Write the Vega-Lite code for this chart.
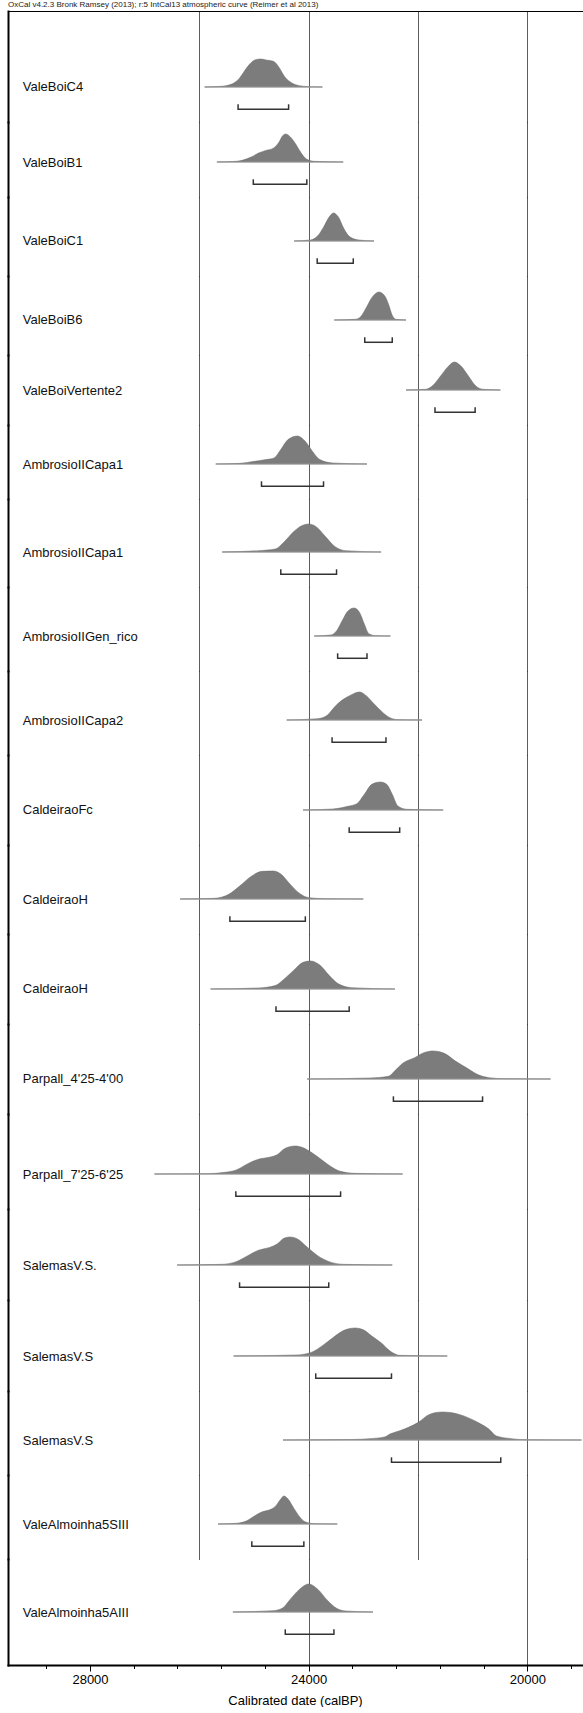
{
"$schema": "https://vega.github.io/schema/vega-lite/v6.json",
"background": "white",
"padding": {"left": 8, "top": 1, "right": 0, "bottom": 0},
"config": {
 "view": {"stroke": null},
 "font": "Liberation Sans",
 "axisX": {"grid": true, "gridColor": "#333", "gridWidth": 0.8, "gridCap": "square", "labels": false, "ticks": false, "domain": false},
 "axisY": {"labels": false, "ticks": false, "grid": false, "domain": true, "domainColor": "#000", "domainWidth": 2, "domainCap": "square"},
 "area": {"interpolate": "monotone", "color": "#7c7c7c", "stroke": "#666", "strokeWidth": 0.5},
 "text": {"align": "left", "baseline": "alphabetic", "dy": 4.5, "fontSize": 13, "font": "Liberation Sans", "color": "#111"},
 "style": {"base": {"color": "#999", "strokeWidth": 1.2}, "brk": {"color": "#333", "strokeWidth": 1.5}}
},
"title": {"text": "OxCal v4.2.3 Bronk Ramsey (2013); r:5 IntCal13 atmospheric curve (Reimer et al 2013)", "anchor": "start", "fontSize": 8, "fontWeight": "normal", "font": "Liberation Sans", "color": "#222", "offset": 2},
"data": {"values": [
{"id":1,"k":"r","name":"ValeBoiC4","lo":25291,"hi":24367},
{"id":1,"k":"p","date":25903,"p":0},{"id":1,"k":"p","date":25597,"p":0.024},{"id":1,"k":"p","date":25393,"p":0.118},{"id":1,"k":"p","date":25291,"p":0.259},{"id":1,"k":"p","date":25189,"p":0.529},{"id":1,"k":"p","date":25087,"p":0.8},{"id":1,"k":"p","date":24985,"p":0.965},{"id":1,"k":"p","date":24883,"p":1},{"id":1,"k":"p","date":24782,"p":0.965},{"id":1,"k":"p","date":24646,"p":0.918},{"id":1,"k":"p","date":24544,"p":0.706},{"id":1,"k":"p","date":24442,"p":0.376},{"id":1,"k":"p","date":24306,"p":0.141},{"id":1,"k":"p","date":24170,"p":0.047},{"id":1,"k":"p","date":24000,"p":0.012},{"id":1,"k":"p","date":23749,"p":0},
{"id":2,"k":"r","name":"ValeBoiB1","lo":25013,"hi":24034},
{"id":2,"k":"p","date":25679,"p":0},{"id":2,"k":"p","date":25325,"p":0.024},{"id":2,"k":"p","date":25053,"p":0.176},{"id":2,"k":"p","date":24917,"p":0.318},{"id":2,"k":"p","date":24782,"p":0.412},{"id":2,"k":"p","date":24646,"p":0.494},{"id":2,"k":"p","date":24544,"p":0.706},{"id":2,"k":"p","date":24476,"p":0.941},{"id":2,"k":"p","date":24421,"p":1},{"id":2,"k":"p","date":24340,"p":0.906},{"id":2,"k":"p","date":24238,"p":0.647},{"id":2,"k":"p","date":24136,"p":0.318},{"id":2,"k":"p","date":24034,"p":0.094},{"id":2,"k":"p","date":23898,"p":0.024},{"id":2,"k":"p","date":23368,"p":0},
{"id":3,"k":"r","name":"ValeBoiC1","lo":23844,"hi":23184},
{"id":3,"k":"p","date":24265,"p":0},{"id":3,"k":"p","date":23966,"p":0.036},{"id":3,"k":"p","date":23830,"p":0.193},{"id":3,"k":"p","date":23728,"p":0.494},{"id":3,"k":"p","date":23626,"p":0.855},{"id":3,"k":"p","date":23545,"p":1},{"id":3,"k":"p","date":23456,"p":0.855},{"id":3,"k":"p","date":23354,"p":0.434},{"id":3,"k":"p","date":23252,"p":0.157},{"id":3,"k":"p","date":23083,"p":0.036},{"id":3,"k":"p","date":22804,"p":0},
{"id":4,"k":"r","name":"ValeBoiB6","lo":22974,"hi":22471},
{"id":4,"k":"p","date":23531,"p":0},{"id":4,"k":"p","date":23150,"p":0.024},{"id":4,"k":"p","date":23049,"p":0.119},{"id":4,"k":"p","date":22947,"p":0.44},{"id":4,"k":"p","date":22845,"p":0.798},{"id":4,"k":"p","date":22716,"p":1},{"id":4,"k":"p","date":22607,"p":0.857},{"id":4,"k":"p","date":22539,"p":0.56},{"id":4,"k":"p","date":22471,"p":0.167},{"id":4,"k":"p","date":22403,"p":0.024},{"id":4,"k":"p","date":22219,"p":0},
{"id":5,"k":"r","name":"ValeBoiVertente2","lo":21689,"hi":20955},
{"id":5,"k":"p","date":22219,"p":0},{"id":5,"k":"p","date":21859,"p":0.024},{"id":5,"k":"p","date":21724,"p":0.167},{"id":5,"k":"p","date":21587,"p":0.5},{"id":5,"k":"p","date":21451,"p":0.833},{"id":5,"k":"p","date":21336,"p":1},{"id":5,"k":"p","date":21214,"p":0.857},{"id":5,"k":"p","date":21078,"p":0.5},{"id":5,"k":"p","date":20942,"p":0.143},{"id":5,"k":"p","date":20806,"p":0.024},{"id":5,"k":"p","date":20493,"p":0},
{"id":6,"k":"r","name":"AmbrosioIICapa1","lo":24863,"hi":23728},
{"id":6,"k":"p","date":25699,"p":0},{"id":6,"k":"p","date":25257,"p":0.024},{"id":6,"k":"p","date":24985,"p":0.096},{"id":6,"k":"p","date":24782,"p":0.157},{"id":6,"k":"p","date":24632,"p":0.217},{"id":6,"k":"p","date":24510,"p":0.518},{"id":6,"k":"p","date":24374,"p":0.88},{"id":6,"k":"p","date":24204,"p":1},{"id":6,"k":"p","date":24068,"p":0.819},{"id":6,"k":"p","date":23932,"p":0.458},{"id":6,"k":"p","date":23796,"p":0.157},{"id":6,"k":"p","date":23558,"p":0.036},{"id":6,"k":"p","date":22933,"p":0},
{"id":7,"k":"r","name":"AmbrosioIICapa1","lo":24510,"hi":23490},
{"id":7,"k":"p","date":25583,"p":0},{"id":7,"k":"p","date":24917,"p":0.047},{"id":7,"k":"p","date":24612,"p":0.106},{"id":7,"k":"p","date":24442,"p":0.376},{"id":7,"k":"p","date":24272,"p":0.729},{"id":7,"k":"p","date":24136,"p":0.929},{"id":7,"k":"p","date":24000,"p":1},{"id":7,"k":"p","date":23864,"p":0.906},{"id":7,"k":"p","date":23694,"p":0.553},{"id":7,"k":"p","date":23524,"p":0.2},{"id":7,"k":"p","date":23320,"p":0.047},{"id":7,"k":"p","date":22675,"p":0},
{"id":8,"k":"r","name":"AmbrosioIIGen_rico","lo":23470,"hi":22933},
{"id":8,"k":"p","date":23898,"p":0},{"id":8,"k":"p","date":23592,"p":0.036},{"id":8,"k":"p","date":23490,"p":0.181},{"id":8,"k":"p","date":23388,"p":0.542},{"id":8,"k":"p","date":23286,"p":0.88},{"id":8,"k":"p","date":23171,"p":1},{"id":8,"k":"p","date":23069,"p":0.843},{"id":8,"k":"p","date":22981,"p":0.422},{"id":8,"k":"p","date":22899,"p":0.084},{"id":8,"k":"p","date":22777,"p":0.012},{"id":8,"k":"p","date":22505,"p":0},
{"id":9,"k":"r","name":"AmbrosioIICapa2","lo":23572,"hi":22586},
{"id":9,"k":"p","date":24401,"p":0},{"id":9,"k":"p","date":23830,"p":0.048},{"id":9,"k":"p","date":23660,"p":0.169},{"id":9,"k":"p","date":23524,"p":0.47},{"id":9,"k":"p","date":23388,"p":0.71},{"id":9,"k":"p","date":23252,"p":0.867},{"id":9,"k":"p","date":23069,"p":1},{"id":9,"k":"p","date":22947,"p":0.867},{"id":9,"k":"p","date":22811,"p":0.59},{"id":9,"k":"p","date":22675,"p":0.325},{"id":9,"k":"p","date":22539,"p":0.108},{"id":9,"k":"p","date":22369,"p":0.012},{"id":9,"k":"p","date":21927,"p":0},
{"id":10,"k":"r","name":"CaldeiraoFc","lo":23259,"hi":22335},
{"id":10,"k":"p","date":24102,"p":0},{"id":10,"k":"p","date":23558,"p":0.036},{"id":10,"k":"p","date":23286,"p":0.131},{"id":10,"k":"p","date":23117,"p":0.226},{"id":10,"k":"p","date":22981,"p":0.56},{"id":10,"k":"p","date":22845,"p":0.917},{"id":10,"k":"p","date":22688,"p":1},{"id":10,"k":"p","date":22573,"p":0.917},{"id":10,"k":"p","date":22471,"p":0.56},{"id":10,"k":"p","date":22369,"p":0.143},{"id":10,"k":"p","date":22199,"p":0.024},{"id":10,"k":"p","date":21540,"p":0},
{"id":11,"k":"r","name":"CaldeiraoH","lo":25441,"hi":24061},
{"id":11,"k":"p","date":26351,"p":0},{"id":11,"k":"p","date":25733,"p":0.024},{"id":11,"k":"p","date":25461,"p":0.169},{"id":11,"k":"p","date":25257,"p":0.47},{"id":11,"k":"p","date":25053,"p":0.807},{"id":11,"k":"p","date":24849,"p":0.988},{"id":11,"k":"p","date":24646,"p":1},{"id":11,"k":"p","date":24510,"p":0.892},{"id":11,"k":"p","date":24340,"p":0.53},{"id":11,"k":"p","date":24170,"p":0.205},{"id":11,"k":"p","date":24000,"p":0.048},{"id":11,"k":"p","date":23694,"p":0.012},{"id":11,"k":"p","date":23001,"p":0},
{"id":12,"k":"r","name":"CaldeiraoH","lo":24598,"hi":23259},
{"id":12,"k":"p","date":25794,"p":0},{"id":12,"k":"p","date":24917,"p":0.037},{"id":12,"k":"p","date":24612,"p":0.122},{"id":12,"k":"p","date":24442,"p":0.366},{"id":12,"k":"p","date":24272,"p":0.671},{"id":12,"k":"p","date":24102,"p":0.951},{"id":12,"k":"p","date":23966,"p":1},{"id":12,"k":"p","date":23796,"p":0.854},{"id":12,"k":"p","date":23626,"p":0.488},{"id":12,"k":"p","date":23456,"p":0.183},{"id":12,"k":"p","date":23218,"p":0.049},{"id":12,"k":"p","date":22423,"p":0},
{"id":13,"k":"r","name":"Parpall_4'25-4'00","lo":22450,"hi":20819},
{"id":13,"k":"p","date":24027,"p":0},{"id":13,"k":"p","date":22879,"p":0.036},{"id":13,"k":"p","date":22539,"p":0.096},{"id":13,"k":"p","date":22403,"p":0.337},{"id":13,"k":"p","date":22267,"p":0.578},{"id":13,"k":"p","date":22063,"p":0.759},{"id":13,"k":"p","date":21893,"p":0.94},{"id":13,"k":"p","date":21723,"p":1},{"id":13,"k":"p","date":21519,"p":0.916},{"id":13,"k":"p","date":21315,"p":0.639},{"id":13,"k":"p","date":21112,"p":0.398},{"id":13,"k":"p","date":20908,"p":0.157},{"id":13,"k":"p","date":20704,"p":0.048},{"id":13,"k":"p","date":20432,"p":0.012},{"id":13,"k":"p","date":19576,"p":0},
{"id":14,"k":"r","name":"Parpall_7'25-6'25","lo":25332,"hi":23416},
{"id":14,"k":"p","date":26820,"p":0},{"id":14,"k":"p","date":25869,"p":0.012},{"id":14,"k":"p","date":25529,"p":0.06},{"id":14,"k":"p","date":25325,"p":0.145},{"id":14,"k":"p","date":25121,"p":0.361},{"id":14,"k":"p","date":24917,"p":0.53},{"id":14,"k":"p","date":24714,"p":0.602},{"id":14,"k":"p","date":24578,"p":0.687},{"id":14,"k":"p","date":24442,"p":0.904},{"id":14,"k":"p","date":24251,"p":1},{"id":14,"k":"p","date":24102,"p":0.94},{"id":14,"k":"p","date":23932,"p":0.747},{"id":14,"k":"p","date":23762,"p":0.506},{"id":14,"k":"p","date":23592,"p":0.265},{"id":14,"k":"p","date":23422,"p":0.096},{"id":14,"k":"p","date":23150,"p":0.024},{"id":14,"k":"p","date":22281,"p":0},
{"id":15,"k":"r","name":"SalemasV.S.","lo":25264,"hi":23633},
{"id":15,"k":"p","date":26406,"p":0},{"id":15,"k":"p","date":25597,"p":0.024},{"id":15,"k":"p","date":25325,"p":0.12},{"id":15,"k":"p","date":25121,"p":0.325},{"id":15,"k":"p","date":24917,"p":0.53},{"id":15,"k":"p","date":24714,"p":0.627},{"id":15,"k":"p","date":24578,"p":0.747},{"id":15,"k":"p","date":24442,"p":0.964},{"id":15,"k":"p","date":24340,"p":1},{"id":15,"k":"p","date":24204,"p":0.928},{"id":15,"k":"p","date":24034,"p":0.651},{"id":15,"k":"p","date":23830,"p":0.325},{"id":15,"k":"p","date":23626,"p":0.12},{"id":15,"k":"p","date":23354,"p":0.024},{"id":15,"k":"p","date":22471,"p":0},
{"id":16,"k":"r","name":"SalemasV.S","lo":23871,"hi":22485},
{"id":16,"k":"p","date":25373,"p":0},{"id":16,"k":"p","date":24238,"p":0.036},{"id":16,"k":"p","date":23966,"p":0.12},{"id":16,"k":"p","date":23762,"p":0.349},{"id":16,"k":"p","date":23558,"p":0.651},{"id":16,"k":"p","date":23354,"p":0.916},{"id":16,"k":"p","date":23150,"p":1},{"id":16,"k":"p","date":22981,"p":0.916},{"id":16,"k":"p","date":22845,"p":0.711},{"id":16,"k":"p","date":22675,"p":0.47},{"id":16,"k":"p","date":22505,"p":0.169},{"id":16,"k":"p","date":22335,"p":0.024},{"id":16,"k":"p","date":21465,"p":0},
{"id":17,"k":"r","name":"SalemasV.S","lo":22485,"hi":20486},
{"id":17,"k":"p","date":24469,"p":0},{"id":17,"k":"p","date":23218,"p":0.018},{"id":17,"k":"p","date":22879,"p":0.048},{"id":17,"k":"p","date":22607,"p":0.11},{"id":17,"k":"p","date":22505,"p":0.22},{"id":17,"k":"p","date":22335,"p":0.33},{"id":17,"k":"p","date":21995,"p":0.63},{"id":17,"k":"p","date":21791,"p":0.915},{"id":17,"k":"p","date":21553,"p":1},{"id":17,"k":"p","date":21248,"p":0.915},{"id":17,"k":"p","date":20908,"p":0.63},{"id":17,"k":"p","date":20704,"p":0.39},{"id":17,"k":"p","date":20568,"p":0.147},{"id":17,"k":"p","date":20296,"p":0.048},{"id":17,"k":"p","date":20024,"p":0.01},{"id":17,"k":"p","date":19010,"p":0},
{"id":18,"k":"r","name":"ValeAlmoinha5SIII","lo":25040,"hi":24088},
{"id":18,"k":"p","date":25658,"p":0},{"id":18,"k":"p","date":25325,"p":0.024},{"id":18,"k":"p","date":25155,"p":0.094},{"id":18,"k":"p","date":24985,"p":0.294},{"id":18,"k":"p","date":24850,"p":0.435},{"id":18,"k":"p","date":24714,"p":0.506},{"id":18,"k":"p","date":24612,"p":0.624},{"id":18,"k":"p","date":24523,"p":0.859},{"id":18,"k":"p","date":24455,"p":1},{"id":18,"k":"p","date":24374,"p":0.882},{"id":18,"k":"p","date":24272,"p":0.565},{"id":18,"k":"p","date":24170,"p":0.271},{"id":18,"k":"p","date":24068,"p":0.082},{"id":18,"k":"p","date":23898,"p":0.012},{"id":18,"k":"p","date":23477,"p":0},
{"id":19,"k":"r","name":"ValeAlmoinha5AIII","lo":24428,"hi":23538},
{"id":19,"k":"p","date":25386,"p":0},{"id":19,"k":"p","date":24646,"p":0.048},{"id":19,"k":"p","date":24476,"p":0.145},{"id":19,"k":"p","date":24340,"p":0.446},{"id":19,"k":"p","date":24170,"p":0.807},{"id":19,"k":"p","date":24000,"p":1},{"id":19,"k":"p","date":23830,"p":0.807},{"id":19,"k":"p","date":23660,"p":0.422},{"id":19,"k":"p","date":23490,"p":0.133},{"id":19,"k":"p","date":23320,"p":0.036},{"id":19,"k":"p","date":22824,"p":0}
]},
"spacing": 0,
"resolve": {"scale": {"y": "independent"}},
"vconcat": [
{"width": 574, "height": 111, "transform": [{"filter": "datum.id == 1"}], "layer": [
 {"transform": [{"filter": "datum.k === 'p'"}], "mark": "area", "encoding": {"x": {"field": "date", "type": "quantitative", "scale": {"domain": [19000, 29500], "reverse": true, "nice": false, "zero": false}, "axis": {"orient": "top", "values": [20000, 22000, 24000, 26000], "domain": true, "domainColor": "#000", "domainWidth": 1, "domainCap": "square", "title": null}}, "y": {"field": "p", "type": "quantitative", "scale": {"domain": [-1.25, 2.714], "nice": false, "zero": false}, "axis": {"title": null}}, "y2": {"datum": 0}}},
 {"transform": [{"filter": "datum.k === 'p'"}], "mark": {"type": "rule", "style": "base"}, "encoding": {"x": {"aggregate": "min", "field": "date", "type": "quantitative", "title": null}, "x2": {"aggregate": "max", "field": "date"}, "y": {"datum": 0}}},
 {"transform": [{"filter": "datum.k === 'r'"}], "mark": {"type": "rule", "style": "brk"}, "encoding": {"x": {"field": "lo", "type": "quantitative", "title": null}, "x2": {"field": "hi"}, "y": {"datum": -0.796}}},
 {"transform": [{"filter": "datum.k === 'r'"}], "mark": {"type": "rule", "style": "brk"}, "encoding": {"x": {"field": "lo", "type": "quantitative", "title": null}, "y": {"datum": -0.82}, "y2": {"datum": -0.618}}},
 {"transform": [{"filter": "datum.k === 'r'"}], "mark": {"type": "rule", "style": "brk"}, "encoding": {"x": {"field": "hi", "type": "quantitative", "title": null}, "y": {"datum": -0.82}, "y2": {"datum": -0.618}}},
 {"transform": [{"filter": "datum.k === 'r'"}], "mark": "text", "encoding": {"x": {"datum": 29230, "type": "quantitative", "title": null}, "y": {"datum": 0}, "text": {"field": "name"}}}
]},
{"width": 574, "height": 75, "transform": [{"filter": "datum.id == 2"}], "layer": [
 {"transform": [{"filter": "datum.k === 'p'"}], "mark": "area", "encoding": {"x": {"field": "date", "type": "quantitative", "scale": {"domain": [19000, 29500], "reverse": true, "nice": false, "zero": false}, "axis": {"values": [20000, 22000, 24000, 26000], "title": null}}, "y": {"field": "p", "type": "quantitative", "scale": {"domain": [-1.25, 1.4286], "nice": false, "zero": false}, "axis": {"title": null}}, "y2": {"datum": 0}}},
 {"transform": [{"filter": "datum.k === 'p'"}], "mark": {"type": "rule", "style": "base"}, "encoding": {"x": {"aggregate": "min", "field": "date", "type": "quantitative", "title": null}, "x2": {"aggregate": "max", "field": "date"}, "y": {"datum": 0}}},
 {"transform": [{"filter": "datum.k === 'r'"}], "mark": {"type": "rule", "style": "brk"}, "encoding": {"x": {"field": "lo", "type": "quantitative", "title": null}, "x2": {"field": "hi"}, "y": {"datum": -0.796}}},
 {"transform": [{"filter": "datum.k === 'r'"}], "mark": {"type": "rule", "style": "brk"}, "encoding": {"x": {"field": "lo", "type": "quantitative", "title": null}, "y": {"datum": -0.82}, "y2": {"datum": -0.618}}},
 {"transform": [{"filter": "datum.k === 'r'"}], "mark": {"type": "rule", "style": "brk"}, "encoding": {"x": {"field": "hi", "type": "quantitative", "title": null}, "y": {"datum": -0.82}, "y2": {"datum": -0.618}}},
 {"transform": [{"filter": "datum.k === 'r'"}], "mark": "text", "encoding": {"x": {"datum": 29230, "type": "quantitative", "title": null}, "y": {"datum": 0}, "text": {"field": "name"}}}
]},
{"width": 574, "height": 79, "transform": [{"filter": "datum.id == 3"}], "layer": [
 {"transform": [{"filter": "datum.k === 'p'"}], "mark": "area", "encoding": {"x": {"field": "date", "type": "quantitative", "scale": {"domain": [19000, 29500], "reverse": true, "nice": false, "zero": false}, "axis": {"values": [20000, 22000, 24000, 26000], "title": null}}, "y": {"field": "p", "type": "quantitative", "scale": {"domain": [-1.25, 1.571], "nice": false, "zero": false}, "axis": {"title": null}}, "y2": {"datum": 0}}},
 {"transform": [{"filter": "datum.k === 'p'"}], "mark": {"type": "rule", "style": "base"}, "encoding": {"x": {"aggregate": "min", "field": "date", "type": "quantitative", "title": null}, "x2": {"aggregate": "max", "field": "date"}, "y": {"datum": 0}}},
 {"transform": [{"filter": "datum.k === 'r'"}], "mark": {"type": "rule", "style": "brk"}, "encoding": {"x": {"field": "lo", "type": "quantitative", "title": null}, "x2": {"field": "hi"}, "y": {"datum": -0.796}}},
 {"transform": [{"filter": "datum.k === 'r'"}], "mark": {"type": "rule", "style": "brk"}, "encoding": {"x": {"field": "lo", "type": "quantitative", "title": null}, "y": {"datum": -0.82}, "y2": {"datum": -0.618}}},
 {"transform": [{"filter": "datum.k === 'r'"}], "mark": {"type": "rule", "style": "brk"}, "encoding": {"x": {"field": "hi", "type": "quantitative", "title": null}, "y": {"datum": -0.82}, "y2": {"datum": -0.618}}},
 {"transform": [{"filter": "datum.k === 'r'"}], "mark": "text", "encoding": {"x": {"datum": 29230, "type": "quantitative", "title": null}, "y": {"datum": 0}, "text": {"field": "name"}}}
]},
{"width": 574, "height": 79, "transform": [{"filter": "datum.id == 4"}], "layer": [
 {"transform": [{"filter": "datum.k === 'p'"}], "mark": "area", "encoding": {"x": {"field": "date", "type": "quantitative", "scale": {"domain": [19000, 29500], "reverse": true, "nice": false, "zero": false}, "axis": {"values": [20000, 22000, 24000, 26000], "title": null}}, "y": {"field": "p", "type": "quantitative", "scale": {"domain": [-1.25, 1.571], "nice": false, "zero": false}, "axis": {"title": null}}, "y2": {"datum": 0}}},
 {"transform": [{"filter": "datum.k === 'p'"}], "mark": {"type": "rule", "style": "base"}, "encoding": {"x": {"aggregate": "min", "field": "date", "type": "quantitative", "title": null}, "x2": {"aggregate": "max", "field": "date"}, "y": {"datum": 0}}},
 {"transform": [{"filter": "datum.k === 'r'"}], "mark": {"type": "rule", "style": "brk"}, "encoding": {"x": {"field": "lo", "type": "quantitative", "title": null}, "x2": {"field": "hi"}, "y": {"datum": -0.796}}},
 {"transform": [{"filter": "datum.k === 'r'"}], "mark": {"type": "rule", "style": "brk"}, "encoding": {"x": {"field": "lo", "type": "quantitative", "title": null}, "y": {"datum": -0.82}, "y2": {"datum": -0.618}}},
 {"transform": [{"filter": "datum.k === 'r'"}], "mark": {"type": "rule", "style": "brk"}, "encoding": {"x": {"field": "hi", "type": "quantitative", "title": null}, "y": {"datum": -0.82}, "y2": {"datum": -0.618}}},
 {"transform": [{"filter": "datum.k === 'r'"}], "mark": "text", "encoding": {"x": {"datum": 29230, "type": "quantitative", "title": null}, "y": {"datum": 0}, "text": {"field": "name"}}}
]},
{"width": 574, "height": 70, "transform": [{"filter": "datum.id == 5"}], "layer": [
 {"transform": [{"filter": "datum.k === 'p'"}], "mark": "area", "encoding": {"x": {"field": "date", "type": "quantitative", "scale": {"domain": [19000, 29500], "reverse": true, "nice": false, "zero": false}, "axis": {"values": [20000, 22000, 24000, 26000], "title": null}}, "y": {"field": "p", "type": "quantitative", "scale": {"domain": [-1.25, 1.25], "nice": false, "zero": false}, "axis": {"title": null}}, "y2": {"datum": 0}}},
 {"transform": [{"filter": "datum.k === 'p'"}], "mark": {"type": "rule", "style": "base"}, "encoding": {"x": {"aggregate": "min", "field": "date", "type": "quantitative", "title": null}, "x2": {"aggregate": "max", "field": "date"}, "y": {"datum": 0}}},
 {"transform": [{"filter": "datum.k === 'r'"}], "mark": {"type": "rule", "style": "brk"}, "encoding": {"x": {"field": "lo", "type": "quantitative", "title": null}, "x2": {"field": "hi"}, "y": {"datum": -0.796}}},
 {"transform": [{"filter": "datum.k === 'r'"}], "mark": {"type": "rule", "style": "brk"}, "encoding": {"x": {"field": "lo", "type": "quantitative", "title": null}, "y": {"datum": -0.82}, "y2": {"datum": -0.618}}},
 {"transform": [{"filter": "datum.k === 'r'"}], "mark": {"type": "rule", "style": "brk"}, "encoding": {"x": {"field": "hi", "type": "quantitative", "title": null}, "y": {"datum": -0.82}, "y2": {"datum": -0.618}}},
 {"transform": [{"filter": "datum.k === 'r'"}], "mark": "text", "encoding": {"x": {"datum": 29230, "type": "quantitative", "title": null}, "y": {"datum": 0}, "text": {"field": "name"}}}
]},
{"width": 574, "height": 74, "transform": [{"filter": "datum.id == 6"}], "layer": [
 {"transform": [{"filter": "datum.k === 'p'"}], "mark": "area", "encoding": {"x": {"field": "date", "type": "quantitative", "scale": {"domain": [19000, 29500], "reverse": true, "nice": false, "zero": false}, "axis": {"values": [20000, 22000, 24000, 26000], "title": null}}, "y": {"field": "p", "type": "quantitative", "scale": {"domain": [-1.25, 1.393], "nice": false, "zero": false}, "axis": {"title": null}}, "y2": {"datum": 0}}},
 {"transform": [{"filter": "datum.k === 'p'"}], "mark": {"type": "rule", "style": "base"}, "encoding": {"x": {"aggregate": "min", "field": "date", "type": "quantitative", "title": null}, "x2": {"aggregate": "max", "field": "date"}, "y": {"datum": 0}}},
 {"transform": [{"filter": "datum.k === 'r'"}], "mark": {"type": "rule", "style": "brk"}, "encoding": {"x": {"field": "lo", "type": "quantitative", "title": null}, "x2": {"field": "hi"}, "y": {"datum": -0.796}}},
 {"transform": [{"filter": "datum.k === 'r'"}], "mark": {"type": "rule", "style": "brk"}, "encoding": {"x": {"field": "lo", "type": "quantitative", "title": null}, "y": {"datum": -0.82}, "y2": {"datum": -0.618}}},
 {"transform": [{"filter": "datum.k === 'r'"}], "mark": {"type": "rule", "style": "brk"}, "encoding": {"x": {"field": "hi", "type": "quantitative", "title": null}, "y": {"datum": -0.82}, "y2": {"datum": -0.618}}},
 {"transform": [{"filter": "datum.k === 'r'"}], "mark": "text", "encoding": {"x": {"datum": 29230, "type": "quantitative", "title": null}, "y": {"datum": 0}, "text": {"field": "name"}}}
]},
{"width": 574, "height": 88, "transform": [{"filter": "datum.id == 7"}], "layer": [
 {"transform": [{"filter": "datum.k === 'p'"}], "mark": "area", "encoding": {"x": {"field": "date", "type": "quantitative", "scale": {"domain": [19000, 29500], "reverse": true, "nice": false, "zero": false}, "axis": {"values": [20000, 22000, 24000, 26000], "title": null}}, "y": {"field": "p", "type": "quantitative", "scale": {"domain": [-1.25, 1.893], "nice": false, "zero": false}, "axis": {"title": null}}, "y2": {"datum": 0}}},
 {"transform": [{"filter": "datum.k === 'p'"}], "mark": {"type": "rule", "style": "base"}, "encoding": {"x": {"aggregate": "min", "field": "date", "type": "quantitative", "title": null}, "x2": {"aggregate": "max", "field": "date"}, "y": {"datum": 0}}},
 {"transform": [{"filter": "datum.k === 'r'"}], "mark": {"type": "rule", "style": "brk"}, "encoding": {"x": {"field": "lo", "type": "quantitative", "title": null}, "x2": {"field": "hi"}, "y": {"datum": -0.796}}},
 {"transform": [{"filter": "datum.k === 'r'"}], "mark": {"type": "rule", "style": "brk"}, "encoding": {"x": {"field": "lo", "type": "quantitative", "title": null}, "y": {"datum": -0.82}, "y2": {"datum": -0.618}}},
 {"transform": [{"filter": "datum.k === 'r'"}], "mark": {"type": "rule", "style": "brk"}, "encoding": {"x": {"field": "hi", "type": "quantitative", "title": null}, "y": {"datum": -0.82}, "y2": {"datum": -0.618}}},
 {"transform": [{"filter": "datum.k === 'r'"}], "mark": "text", "encoding": {"x": {"datum": 29230, "type": "quantitative", "title": null}, "y": {"datum": 0}, "text": {"field": "name"}}}
]},
{"width": 574, "height": 84, "transform": [{"filter": "datum.id == 8"}], "layer": [
 {"transform": [{"filter": "datum.k === 'p'"}], "mark": "area", "encoding": {"x": {"field": "date", "type": "quantitative", "scale": {"domain": [19000, 29500], "reverse": true, "nice": false, "zero": false}, "axis": {"values": [20000, 22000, 24000, 26000], "title": null}}, "y": {"field": "p", "type": "quantitative", "scale": {"domain": [-1.25, 1.75], "nice": false, "zero": false}, "axis": {"title": null}}, "y2": {"datum": 0}}},
 {"transform": [{"filter": "datum.k === 'p'"}], "mark": {"type": "rule", "style": "base"}, "encoding": {"x": {"aggregate": "min", "field": "date", "type": "quantitative", "title": null}, "x2": {"aggregate": "max", "field": "date"}, "y": {"datum": 0}}},
 {"transform": [{"filter": "datum.k === 'r'"}], "mark": {"type": "rule", "style": "brk"}, "encoding": {"x": {"field": "lo", "type": "quantitative", "title": null}, "x2": {"field": "hi"}, "y": {"datum": -0.796}}},
 {"transform": [{"filter": "datum.k === 'r'"}], "mark": {"type": "rule", "style": "brk"}, "encoding": {"x": {"field": "lo", "type": "quantitative", "title": null}, "y": {"datum": -0.82}, "y2": {"datum": -0.618}}},
 {"transform": [{"filter": "datum.k === 'r'"}], "mark": {"type": "rule", "style": "brk"}, "encoding": {"x": {"field": "hi", "type": "quantitative", "title": null}, "y": {"datum": -0.82}, "y2": {"datum": -0.618}}},
 {"transform": [{"filter": "datum.k === 'r'"}], "mark": "text", "encoding": {"x": {"datum": 29230, "type": "quantitative", "title": null}, "y": {"datum": 0}, "text": {"field": "name"}}}
]},
{"width": 574, "height": 84, "transform": [{"filter": "datum.id == 9"}], "layer": [
 {"transform": [{"filter": "datum.k === 'p'"}], "mark": "area", "encoding": {"x": {"field": "date", "type": "quantitative", "scale": {"domain": [19000, 29500], "reverse": true, "nice": false, "zero": false}, "axis": {"values": [20000, 22000, 24000, 26000], "title": null}}, "y": {"field": "p", "type": "quantitative", "scale": {"domain": [-1.25, 1.75], "nice": false, "zero": false}, "axis": {"title": null}}, "y2": {"datum": 0}}},
 {"transform": [{"filter": "datum.k === 'p'"}], "mark": {"type": "rule", "style": "base"}, "encoding": {"x": {"aggregate": "min", "field": "date", "type": "quantitative", "title": null}, "x2": {"aggregate": "max", "field": "date"}, "y": {"datum": 0}}},
 {"transform": [{"filter": "datum.k === 'r'"}], "mark": {"type": "rule", "style": "brk"}, "encoding": {"x": {"field": "lo", "type": "quantitative", "title": null}, "x2": {"field": "hi"}, "y": {"datum": -0.796}}},
 {"transform": [{"filter": "datum.k === 'r'"}], "mark": {"type": "rule", "style": "brk"}, "encoding": {"x": {"field": "lo", "type": "quantitative", "title": null}, "y": {"datum": -0.82}, "y2": {"datum": -0.618}}},
 {"transform": [{"filter": "datum.k === 'r'"}], "mark": {"type": "rule", "style": "brk"}, "encoding": {"x": {"field": "hi", "type": "quantitative", "title": null}, "y": {"datum": -0.82}, "y2": {"datum": -0.618}}},
 {"transform": [{"filter": "datum.k === 'r'"}], "mark": "text", "encoding": {"x": {"datum": 29230, "type": "quantitative", "title": null}, "y": {"datum": 0}, "text": {"field": "name"}}}
]},
{"width": 574, "height": 90, "transform": [{"filter": "datum.id == 10"}], "layer": [
 {"transform": [{"filter": "datum.k === 'p'"}], "mark": "area", "encoding": {"x": {"field": "date", "type": "quantitative", "scale": {"domain": [19000, 29500], "reverse": true, "nice": false, "zero": false}, "axis": {"values": [20000, 22000, 24000, 26000], "title": null}}, "y": {"field": "p", "type": "quantitative", "scale": {"domain": [-1.25, 1.964], "nice": false, "zero": false}, "axis": {"title": null}}, "y2": {"datum": 0}}},
 {"transform": [{"filter": "datum.k === 'p'"}], "mark": {"type": "rule", "style": "base"}, "encoding": {"x": {"aggregate": "min", "field": "date", "type": "quantitative", "title": null}, "x2": {"aggregate": "max", "field": "date"}, "y": {"datum": 0}}},
 {"transform": [{"filter": "datum.k === 'r'"}], "mark": {"type": "rule", "style": "brk"}, "encoding": {"x": {"field": "lo", "type": "quantitative", "title": null}, "x2": {"field": "hi"}, "y": {"datum": -0.796}}},
 {"transform": [{"filter": "datum.k === 'r'"}], "mark": {"type": "rule", "style": "brk"}, "encoding": {"x": {"field": "lo", "type": "quantitative", "title": null}, "y": {"datum": -0.82}, "y2": {"datum": -0.618}}},
 {"transform": [{"filter": "datum.k === 'r'"}], "mark": {"type": "rule", "style": "brk"}, "encoding": {"x": {"field": "hi", "type": "quantitative", "title": null}, "y": {"datum": -0.82}, "y2": {"datum": -0.618}}},
 {"transform": [{"filter": "datum.k === 'r'"}], "mark": "text", "encoding": {"x": {"datum": 29230, "type": "quantitative", "title": null}, "y": {"datum": 0}, "text": {"field": "name"}}}
]},
{"width": 574, "height": 89, "transform": [{"filter": "datum.id == 11"}], "layer": [
 {"transform": [{"filter": "datum.k === 'p'"}], "mark": "area", "encoding": {"x": {"field": "date", "type": "quantitative", "scale": {"domain": [19000, 29500], "reverse": true, "nice": false, "zero": false}, "axis": {"values": [20000, 22000, 24000, 26000], "title": null}}, "y": {"field": "p", "type": "quantitative", "scale": {"domain": [-1.25, 1.929], "nice": false, "zero": false}, "axis": {"title": null}}, "y2": {"datum": 0}}},
 {"transform": [{"filter": "datum.k === 'p'"}], "mark": {"type": "rule", "style": "base"}, "encoding": {"x": {"aggregate": "min", "field": "date", "type": "quantitative", "title": null}, "x2": {"aggregate": "max", "field": "date"}, "y": {"datum": 0}}},
 {"transform": [{"filter": "datum.k === 'r'"}], "mark": {"type": "rule", "style": "brk"}, "encoding": {"x": {"field": "lo", "type": "quantitative", "title": null}, "x2": {"field": "hi"}, "y": {"datum": -0.796}}},
 {"transform": [{"filter": "datum.k === 'r'"}], "mark": {"type": "rule", "style": "brk"}, "encoding": {"x": {"field": "lo", "type": "quantitative", "title": null}, "y": {"datum": -0.82}, "y2": {"datum": -0.618}}},
 {"transform": [{"filter": "datum.k === 'r'"}], "mark": {"type": "rule", "style": "brk"}, "encoding": {"x": {"field": "hi", "type": "quantitative", "title": null}, "y": {"datum": -0.82}, "y2": {"datum": -0.618}}},
 {"transform": [{"filter": "datum.k === 'r'"}], "mark": "text", "encoding": {"x": {"datum": 29230, "type": "quantitative", "title": null}, "y": {"datum": 0}, "text": {"field": "name"}}}
]},
{"width": 574, "height": 90, "transform": [{"filter": "datum.id == 12"}], "layer": [
 {"transform": [{"filter": "datum.k === 'p'"}], "mark": "area", "encoding": {"x": {"field": "date", "type": "quantitative", "scale": {"domain": [19000, 29500], "reverse": true, "nice": false, "zero": false}, "axis": {"values": [20000, 22000, 24000, 26000], "title": null}}, "y": {"field": "p", "type": "quantitative", "scale": {"domain": [-1.25, 1.964], "nice": false, "zero": false}, "axis": {"title": null}}, "y2": {"datum": 0}}},
 {"transform": [{"filter": "datum.k === 'p'"}], "mark": {"type": "rule", "style": "base"}, "encoding": {"x": {"aggregate": "min", "field": "date", "type": "quantitative", "title": null}, "x2": {"aggregate": "max", "field": "date"}, "y": {"datum": 0}}},
 {"transform": [{"filter": "datum.k === 'r'"}], "mark": {"type": "rule", "style": "brk"}, "encoding": {"x": {"field": "lo", "type": "quantitative", "title": null}, "x2": {"field": "hi"}, "y": {"datum": -0.796}}},
 {"transform": [{"filter": "datum.k === 'r'"}], "mark": {"type": "rule", "style": "brk"}, "encoding": {"x": {"field": "lo", "type": "quantitative", "title": null}, "y": {"datum": -0.82}, "y2": {"datum": -0.618}}},
 {"transform": [{"filter": "datum.k === 'r'"}], "mark": {"type": "rule", "style": "brk"}, "encoding": {"x": {"field": "hi", "type": "quantitative", "title": null}, "y": {"datum": -0.82}, "y2": {"datum": -0.618}}},
 {"transform": [{"filter": "datum.k === 'r'"}], "mark": "text", "encoding": {"x": {"datum": 29230, "type": "quantitative", "title": null}, "y": {"datum": 0}, "text": {"field": "name"}}}
]},
{"width": 574, "height": 90, "transform": [{"filter": "datum.id == 13"}], "layer": [
 {"transform": [{"filter": "datum.k === 'p'"}], "mark": "area", "encoding": {"x": {"field": "date", "type": "quantitative", "scale": {"domain": [19000, 29500], "reverse": true, "nice": false, "zero": false}, "axis": {"values": [20000, 22000, 24000, 26000], "title": null}}, "y": {"field": "p", "type": "quantitative", "scale": {"domain": [-1.25, 1.964], "nice": false, "zero": false}, "axis": {"title": null}}, "y2": {"datum": 0}}},
 {"transform": [{"filter": "datum.k === 'p'"}], "mark": {"type": "rule", "style": "base"}, "encoding": {"x": {"aggregate": "min", "field": "date", "type": "quantitative", "title": null}, "x2": {"aggregate": "max", "field": "date"}, "y": {"datum": 0}}},
 {"transform": [{"filter": "datum.k === 'r'"}], "mark": {"type": "rule", "style": "brk"}, "encoding": {"x": {"field": "lo", "type": "quantitative", "title": null}, "x2": {"field": "hi"}, "y": {"datum": -0.796}}},
 {"transform": [{"filter": "datum.k === 'r'"}], "mark": {"type": "rule", "style": "brk"}, "encoding": {"x": {"field": "lo", "type": "quantitative", "title": null}, "y": {"datum": -0.82}, "y2": {"datum": -0.618}}},
 {"transform": [{"filter": "datum.k === 'r'"}], "mark": {"type": "rule", "style": "brk"}, "encoding": {"x": {"field": "hi", "type": "quantitative", "title": null}, "y": {"datum": -0.82}, "y2": {"datum": -0.618}}},
 {"transform": [{"filter": "datum.k === 'r'"}], "mark": "text", "encoding": {"x": {"datum": 29230, "type": "quantitative", "title": null}, "y": {"datum": 0}, "text": {"field": "name"}}}
]},
{"width": 574, "height": 95, "transform": [{"filter": "datum.id == 14"}], "layer": [
 {"transform": [{"filter": "datum.k === 'p'"}], "mark": "area", "encoding": {"x": {"field": "date", "type": "quantitative", "scale": {"domain": [19000, 29500], "reverse": true, "nice": false, "zero": false}, "axis": {"values": [20000, 22000, 24000, 26000], "title": null}}, "y": {"field": "p", "type": "quantitative", "scale": {"domain": [-1.25, 2.143], "nice": false, "zero": false}, "axis": {"title": null}}, "y2": {"datum": 0}}},
 {"transform": [{"filter": "datum.k === 'p'"}], "mark": {"type": "rule", "style": "base"}, "encoding": {"x": {"aggregate": "min", "field": "date", "type": "quantitative", "title": null}, "x2": {"aggregate": "max", "field": "date"}, "y": {"datum": 0}}},
 {"transform": [{"filter": "datum.k === 'r'"}], "mark": {"type": "rule", "style": "brk"}, "encoding": {"x": {"field": "lo", "type": "quantitative", "title": null}, "x2": {"field": "hi"}, "y": {"datum": -0.796}}},
 {"transform": [{"filter": "datum.k === 'r'"}], "mark": {"type": "rule", "style": "brk"}, "encoding": {"x": {"field": "lo", "type": "quantitative", "title": null}, "y": {"datum": -0.82}, "y2": {"datum": -0.618}}},
 {"transform": [{"filter": "datum.k === 'r'"}], "mark": {"type": "rule", "style": "brk"}, "encoding": {"x": {"field": "hi", "type": "quantitative", "title": null}, "y": {"datum": -0.82}, "y2": {"datum": -0.618}}},
 {"transform": [{"filter": "datum.k === 'r'"}], "mark": "text", "encoding": {"x": {"datum": 29230, "type": "quantitative", "title": null}, "y": {"datum": 0}, "text": {"field": "name"}}}
]},
{"width": 574, "height": 91, "transform": [{"filter": "datum.id == 15"}], "layer": [
 {"transform": [{"filter": "datum.k === 'p'"}], "mark": "area", "encoding": {"x": {"field": "date", "type": "quantitative", "scale": {"domain": [19000, 29500], "reverse": true, "nice": false, "zero": false}, "axis": {"values": [20000, 22000, 24000, 26000], "title": null}}, "y": {"field": "p", "type": "quantitative", "scale": {"domain": [-1.25, 2.0], "nice": false, "zero": false}, "axis": {"title": null}}, "y2": {"datum": 0}}},
 {"transform": [{"filter": "datum.k === 'p'"}], "mark": {"type": "rule", "style": "base"}, "encoding": {"x": {"aggregate": "min", "field": "date", "type": "quantitative", "title": null}, "x2": {"aggregate": "max", "field": "date"}, "y": {"datum": 0}}},
 {"transform": [{"filter": "datum.k === 'r'"}], "mark": {"type": "rule", "style": "brk"}, "encoding": {"x": {"field": "lo", "type": "quantitative", "title": null}, "x2": {"field": "hi"}, "y": {"datum": -0.796}}},
 {"transform": [{"filter": "datum.k === 'r'"}], "mark": {"type": "rule", "style": "brk"}, "encoding": {"x": {"field": "lo", "type": "quantitative", "title": null}, "y": {"datum": -0.82}, "y2": {"datum": -0.618}}},
 {"transform": [{"filter": "datum.k === 'r'"}], "mark": {"type": "rule", "style": "brk"}, "encoding": {"x": {"field": "hi", "type": "quantitative", "title": null}, "y": {"datum": -0.82}, "y2": {"datum": -0.618}}},
 {"transform": [{"filter": "datum.k === 'r'"}], "mark": "text", "encoding": {"x": {"datum": 29230, "type": "quantitative", "title": null}, "y": {"datum": 0}, "text": {"field": "name"}}}
]},
{"width": 574, "height": 91, "transform": [{"filter": "datum.id == 16"}], "layer": [
 {"transform": [{"filter": "datum.k === 'p'"}], "mark": "area", "encoding": {"x": {"field": "date", "type": "quantitative", "scale": {"domain": [19000, 29500], "reverse": true, "nice": false, "zero": false}, "axis": {"values": [20000, 22000, 24000, 26000], "title": null}}, "y": {"field": "p", "type": "quantitative", "scale": {"domain": [-1.25, 2.0], "nice": false, "zero": false}, "axis": {"title": null}}, "y2": {"datum": 0}}},
 {"transform": [{"filter": "datum.k === 'p'"}], "mark": {"type": "rule", "style": "base"}, "encoding": {"x": {"aggregate": "min", "field": "date", "type": "quantitative", "title": null}, "x2": {"aggregate": "max", "field": "date"}, "y": {"datum": 0}}},
 {"transform": [{"filter": "datum.k === 'r'"}], "mark": {"type": "rule", "style": "brk"}, "encoding": {"x": {"field": "lo", "type": "quantitative", "title": null}, "x2": {"field": "hi"}, "y": {"datum": -0.796}}},
 {"transform": [{"filter": "datum.k === 'r'"}], "mark": {"type": "rule", "style": "brk"}, "encoding": {"x": {"field": "lo", "type": "quantitative", "title": null}, "y": {"datum": -0.82}, "y2": {"datum": -0.618}}},
 {"transform": [{"filter": "datum.k === 'r'"}], "mark": {"type": "rule", "style": "brk"}, "encoding": {"x": {"field": "hi", "type": "quantitative", "title": null}, "y": {"datum": -0.82}, "y2": {"datum": -0.618}}},
 {"transform": [{"filter": "datum.k === 'r'"}], "mark": "text", "encoding": {"x": {"datum": 29230, "type": "quantitative", "title": null}, "y": {"datum": 0}, "text": {"field": "name"}}}
]},
{"width": 574, "height": 84, "transform": [{"filter": "datum.id == 17"}], "layer": [
 {"transform": [{"filter": "datum.k === 'p'"}], "mark": "area", "encoding": {"x": {"field": "date", "type": "quantitative", "scale": {"domain": [19000, 29500], "reverse": true, "nice": false, "zero": false}, "axis": {"values": [20000, 22000, 24000, 26000], "title": null}}, "y": {"field": "p", "type": "quantitative", "scale": {"domain": [-1.25, 1.75], "nice": false, "zero": false}, "axis": {"title": null}}, "y2": {"datum": 0}}},
 {"transform": [{"filter": "datum.k === 'p'"}], "mark": {"type": "rule", "style": "base"}, "encoding": {"x": {"aggregate": "min", "field": "date", "type": "quantitative", "title": null}, "x2": {"aggregate": "max", "field": "date"}, "y": {"datum": 0}}},
 {"transform": [{"filter": "datum.k === 'r'"}], "mark": {"type": "rule", "style": "brk"}, "encoding": {"x": {"field": "lo", "type": "quantitative", "title": null}, "x2": {"field": "hi"}, "y": {"datum": -0.796}}},
 {"transform": [{"filter": "datum.k === 'r'"}], "mark": {"type": "rule", "style": "brk"}, "encoding": {"x": {"field": "lo", "type": "quantitative", "title": null}, "y": {"datum": -0.82}, "y2": {"datum": -0.618}}},
 {"transform": [{"filter": "datum.k === 'r'"}], "mark": {"type": "rule", "style": "brk"}, "encoding": {"x": {"field": "hi", "type": "quantitative", "title": null}, "y": {"datum": -0.82}, "y2": {"datum": -0.618}}},
 {"transform": [{"filter": "datum.k === 'r'"}], "mark": "text", "encoding": {"x": {"datum": 29230, "type": "quantitative", "title": null}, "y": {"datum": 0}, "text": {"field": "name"}}}
]},
{"width": 574, "height": 84, "transform": [{"filter": "datum.id == 18"}], "layer": [
 {"transform": [{"filter": "datum.k === 'p'"}], "mark": "area", "encoding": {"x": {"field": "date", "type": "quantitative", "scale": {"domain": [19000, 29500], "reverse": true, "nice": false, "zero": false}, "axis": {"values": [20000, 22000, 24000, 26000], "title": null}}, "y": {"field": "p", "type": "quantitative", "scale": {"domain": [-1.25, 1.75], "nice": false, "zero": false}, "axis": {"title": null}}, "y2": {"datum": 0}}},
 {"transform": [{"filter": "datum.k === 'p'"}], "mark": {"type": "rule", "style": "base"}, "encoding": {"x": {"aggregate": "min", "field": "date", "type": "quantitative", "title": null}, "x2": {"aggregate": "max", "field": "date"}, "y": {"datum": 0}}},
 {"transform": [{"filter": "datum.k === 'r'"}], "mark": {"type": "rule", "style": "brk"}, "encoding": {"x": {"field": "lo", "type": "quantitative", "title": null}, "x2": {"field": "hi"}, "y": {"datum": -0.796}}},
 {"transform": [{"filter": "datum.k === 'r'"}], "mark": {"type": "rule", "style": "brk"}, "encoding": {"x": {"field": "lo", "type": "quantitative", "title": null}, "y": {"datum": -0.82}, "y2": {"datum": -0.618}}},
 {"transform": [{"filter": "datum.k === 'r'"}], "mark": {"type": "rule", "style": "brk"}, "encoding": {"x": {"field": "hi", "type": "quantitative", "title": null}, "y": {"datum": -0.82}, "y2": {"datum": -0.618}}},
 {"transform": [{"filter": "datum.k === 'r'"}], "mark": "text", "encoding": {"x": {"datum": 29230, "type": "quantitative", "title": null}, "y": {"datum": 0}, "text": {"field": "name"}}}
]},
{"width": 574, "height": 106, "transform": [{"filter": "datum.id == 19"}], "layer": [
 {"transform": [{"filter": "datum.k === 'p'"}], "mark": "area", "encoding": {"x": {"field": "date", "type": "quantitative", "scale": {"domain": [19000, 29500], "reverse": true, "nice": false, "zero": false}, "axis": {"orient": "bottom", "values": [19200,19400,19600,19800,20000,20200,20400,20600,20800,21000,21200,21400,21600,21800,22000,22200,22400,22600,22800,23000,23200,23400,23600,23800,24000,24200,24400,24600,24800,25000,25200,25400,25600,25800,26000,26200,26400,26600,26800,27000,27200,27400,27600,27800,28000,28200,28400,28600,28800,29000,29200,29400], "format": "d", "labels": true, "ticks": true, "domain": true, "domainCap": "square", "labelExpr": "datum.value % 2000 === 0 ? datum.label : ''", "labelOverlap": false, "labelFlush": false, "labelBound": false, "tickSize": {"condition": {"test": "datum.value % 2000 === 0", "value": 6}, "value": 3.5}, "tickColor": "#000", "tickWidth": 1, "domainColor": "#000", "domainWidth": 2, "gridOpacity": {"condition": {"test": "datum.value % 2000 === 0 && datum.value < 27000", "value": 1}, "value": 0}, "labelFontSize": 13, "labelFont": "Liberation Sans", "labelColor": "#000", "labelPadding": 2, "title": "Calibrated date (calBP)", "titleFont": "Liberation Sans", "titleFontSize": 13, "titleFontWeight": "normal", "titleColor": "#000", "titlePadding": 8}}, "y": {"field": "p", "type": "quantitative", "scale": {"domain": [-1.893, 1.893], "nice": false, "zero": false}, "axis": {"title": null}}, "y2": {"datum": 0}}},
 {"transform": [{"filter": "datum.k === 'p'"}], "mark": {"type": "rule", "style": "base"}, "encoding": {"x": {"aggregate": "min", "field": "date", "type": "quantitative", "title": "Calibrated date (calBP)"}, "x2": {"aggregate": "max", "field": "date"}, "y": {"datum": 0}}},
 {"transform": [{"filter": "datum.k === 'r'"}], "mark": {"type": "rule", "style": "brk"}, "encoding": {"x": {"field": "lo", "type": "quantitative", "title": "Calibrated date (calBP)"}, "x2": {"field": "hi"}, "y": {"datum": -0.796}}},
 {"transform": [{"filter": "datum.k === 'r'"}], "mark": {"type": "rule", "style": "brk"}, "encoding": {"x": {"field": "lo", "type": "quantitative", "title": "Calibrated date (calBP)"}, "y": {"datum": -0.82}, "y2": {"datum": -0.618}}},
 {"transform": [{"filter": "datum.k === 'r'"}], "mark": {"type": "rule", "style": "brk"}, "encoding": {"x": {"field": "hi", "type": "quantitative", "title": "Calibrated date (calBP)"}, "y": {"datum": -0.82}, "y2": {"datum": -0.618}}},
 {"transform": [{"filter": "datum.k === 'r'"}], "mark": "text", "encoding": {"x": {"datum": 29230, "type": "quantitative", "title": "Calibrated date (calBP)"}, "y": {"datum": 0}, "text": {"field": "name"}}}
]}
]
}
